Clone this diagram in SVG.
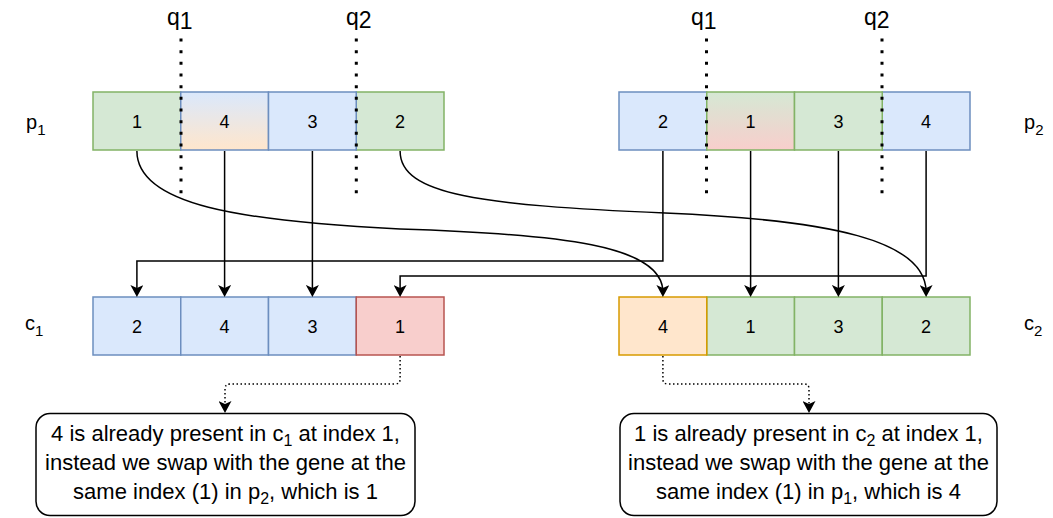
<svg xmlns="http://www.w3.org/2000/svg" width="1053" height="518" viewBox="0 0 1053 518">
  <style>
    text { font-family: "Liberation Sans", Arial, Helvetica, sans-serif; fill: #000; }
    .cell text { font-size: 18px; text-anchor: middle; }
    .green rect { fill: #d5e8d4; stroke: #82b366; stroke-width: 1.5; }
    .blue rect { fill: #dae8fc; stroke: #6c8ebf; stroke-width: 1.5; }
    .red rect { fill: #f8cecc; stroke: #b85450; stroke-width: 1.5; }
    .orange rect { fill: #ffe6cc; stroke: #d79b00; stroke-width: 1.5; }
    .blueorange rect { fill: url(#gBlueOrange); stroke: #6c8ebf; stroke-width: 1.5; }
    .greenred rect { fill: url(#gGreenRed); stroke: #82b366; stroke-width: 1.5; }
    .lbl { font-size: 20px; }
    .qlbl { font-size: 23px; }
    .cut { stroke: #000; stroke-width: 3; stroke-dasharray: 3 8.67; fill: none; }
    .edge { fill: none; stroke: #000; stroke-width: 1.5; }
    .dotted { fill: none; stroke: #000; stroke-width: 1.5; stroke-dasharray: 1.5 2.5; }
    .note rect { fill: #fff; stroke: #000; stroke-width: 1.5; }
    .note text { font-size: 22px; text-anchor: middle; }
  </style>
  <defs>
    <linearGradient id="gBlueOrange" x1="0" y1="0" x2="0" y2="1">
      <stop offset="0" stop-color="#dae8fc"/>
      <stop offset="1" stop-color="#ffe6cc"/>
    </linearGradient>
    <linearGradient id="gGreenRed" x1="0" y1="0" x2="0" y2="1">
      <stop offset="0" stop-color="#d5e8d4"/>
      <stop offset="1" stop-color="#f8cecc"/>
    </linearGradient>
    <marker id="arrow" viewBox="0 0 12 13" refX="7" refY="6.5" markerWidth="12" markerHeight="13" markerUnits="userSpaceOnUse" orient="auto">
      <path d="M0,0 L12,6.5 L0,13 L3,6.5 Z" fill="#000"/>
    </marker>
  </defs>

  <!-- row labels -->
  <g id="label-p1"><text class="lbl" x="26" y="129">p<tspan font-size="15" dy="6">1</tspan></text></g>
  <g id="label-p2"><text class="lbl" x="1024" y="129">p<tspan font-size="15" dy="6">2</tspan></text></g>
  <g id="label-c1"><text class="lbl" x="25" y="330">c<tspan font-size="15" dy="6">1</tspan></text></g>
  <g id="label-c2"><text class="lbl" x="1024" y="330">c<tspan font-size="15" dy="6">2</tspan></text></g>

  <!-- parent 1 -->
  <g id="p1-g0" class="cell green"><rect x="93" y="92" width="87.75" height="58"/><text x="136.9" y="127.5">1</text></g>
  <g id="p1-g3" class="cell green"><rect x="356.25" y="92" width="87.75" height="58"/><text x="400.1" y="127.5">2</text></g>
  <g id="p1-g1" class="cell blueorange"><rect x="180.75" y="92" width="87.75" height="58"/><text x="224.6" y="127.5">4</text></g>
  <g id="p1-g2" class="cell blue"><rect x="268.5" y="92" width="87.75" height="58"/><text x="312.4" y="127.5">3</text></g>

  <!-- parent 2 -->
  <g id="p2-g0" class="cell blue"><rect x="619" y="92" width="87.75" height="58"/><text x="662.9" y="127.5">2</text></g>
  <g id="p2-g3" class="cell blue"><rect x="882.25" y="92" width="87.75" height="58"/><text x="926.1" y="127.5">4</text></g>
  <g id="p2-g1" class="cell greenred"><rect x="706.75" y="92" width="87.75" height="58"/><text x="750.6" y="127.5">1</text></g>
  <g id="p2-g2" class="cell green"><rect x="794.5" y="92" width="87.75" height="58"/><text x="838.4" y="127.5">3</text></g>

  <!-- child 1 -->
  <g id="c1-g0" class="cell blue"><rect x="93" y="297" width="87.75" height="58"/><text x="136.9" y="332.5">2</text></g>
  <g id="c1-g1" class="cell blue"><rect x="180.75" y="297" width="87.75" height="58"/><text x="224.6" y="332.5">4</text></g>
  <g id="c1-g2" class="cell blue"><rect x="268.5" y="297" width="87.75" height="58"/><text x="312.4" y="332.5">3</text></g>
  <g id="c1-g3" class="cell red"><rect x="356.25" y="297" width="87.75" height="58"/><text x="400.1" y="332.5">1</text></g>

  <!-- child 2 -->
  <g id="c2-g1" class="cell green"><rect x="706.75" y="297" width="87.75" height="58"/><text x="750.6" y="332.5">1</text></g>
  <g id="c2-g2" class="cell green"><rect x="794.5" y="297" width="87.75" height="58"/><text x="838.4" y="332.5">3</text></g>
  <g id="c2-g3" class="cell green"><rect x="882.25" y="297" width="87.75" height="58"/><text x="926.1" y="332.5">2</text></g>
  <g id="c2-g0" class="cell orange"><rect x="619" y="297" width="87.75" height="58"/><text x="662.9" y="332.5">4</text></g>

  <!-- crossover cut points -->
  <g id="cut-points">
    <path class="cut" d="M181 38.5 V194"/>
    <path class="cut" d="M356.3 38.5 V194"/>
    <path class="cut" d="M706.5 38.5 V194"/>
    <path class="cut" d="M882 38.5 V194"/>
    <text class="qlbl" x="167" y="25">q<tspan dy="4">1</tspan></text>
    <text class="qlbl" x="346" y="25">q<tspan dy="3">2</tspan></text>
    <text class="qlbl" x="691" y="25">q<tspan dy="4">1</tspan></text>
    <text class="qlbl" x="864" y="25">q<tspan dy="3">2</tspan></text>
  </g>

  <!-- connectors -->
  <g id="connectors">
    <path class="edge" marker-end="url(#arrow)" d="M136.9 151 C136.9 205 240 221 400 229 C560 234 662.9 245 662.9 292"/>
    <path class="edge" marker-end="url(#arrow)" d="M224.6 151 V292"/>
    <path class="edge" marker-end="url(#arrow)" d="M312.4 151 V292"/>
    <path class="edge" marker-end="url(#arrow)" d="M400.1 151 C400.1 195 480 205 665 213 C830 220 926.1 240 926.1 292"/>
    <path class="edge" marker-end="url(#arrow)" d="M662.9 151 V261 H136.9 V292"/>
    <path class="edge" marker-end="url(#arrow)" d="M926.1 151 V276 H400.1 V292"/>
    <path class="edge" marker-end="url(#arrow)" d="M750.6 151 V292"/>
    <path class="edge" marker-end="url(#arrow)" d="M838.4 151 V292"/>
    <path class="dotted" marker-end="url(#arrow)" d="M400.1 356 V379 Q400.1 384 395.1 384 H230 Q225 384 225 389 V408"/>
    <path class="dotted" marker-end="url(#arrow)" d="M662.9 356 V379 Q662.9 384 667.9 384 H804 Q809 384 809 389 V408"/>
  </g>

  <!-- explanatory notes -->
  <g id="note-c1" class="note">
    <rect x="36" y="413.5" width="379" height="102" rx="14"/>
    <text x="225.5" y="441">4 is already present in c<tspan font-size="16" dy="5">1</tspan><tspan dy="-5"> at index 1,</tspan></text>
    <text x="225.5" y="470">instead we swap with the gene at the</text>
    <text x="225.5" y="499">same index (1) in p<tspan font-size="16" dy="5">2</tspan><tspan dy="-5">, which is 1</tspan></text>
  </g>
  <g id="note-c2" class="note">
    <rect x="620" y="413.5" width="377" height="102" rx="14"/>
    <text x="808.5" y="441">1 is already present in c<tspan font-size="16" dy="5">2</tspan><tspan dy="-5"> at index 1,</tspan></text>
    <text x="808.5" y="470">instead we swap with the gene at the</text>
    <text x="808.5" y="499">same index (1) in p<tspan font-size="16" dy="5">1</tspan><tspan dy="-5">, which is 4</tspan></text>
  </g>
</svg>
